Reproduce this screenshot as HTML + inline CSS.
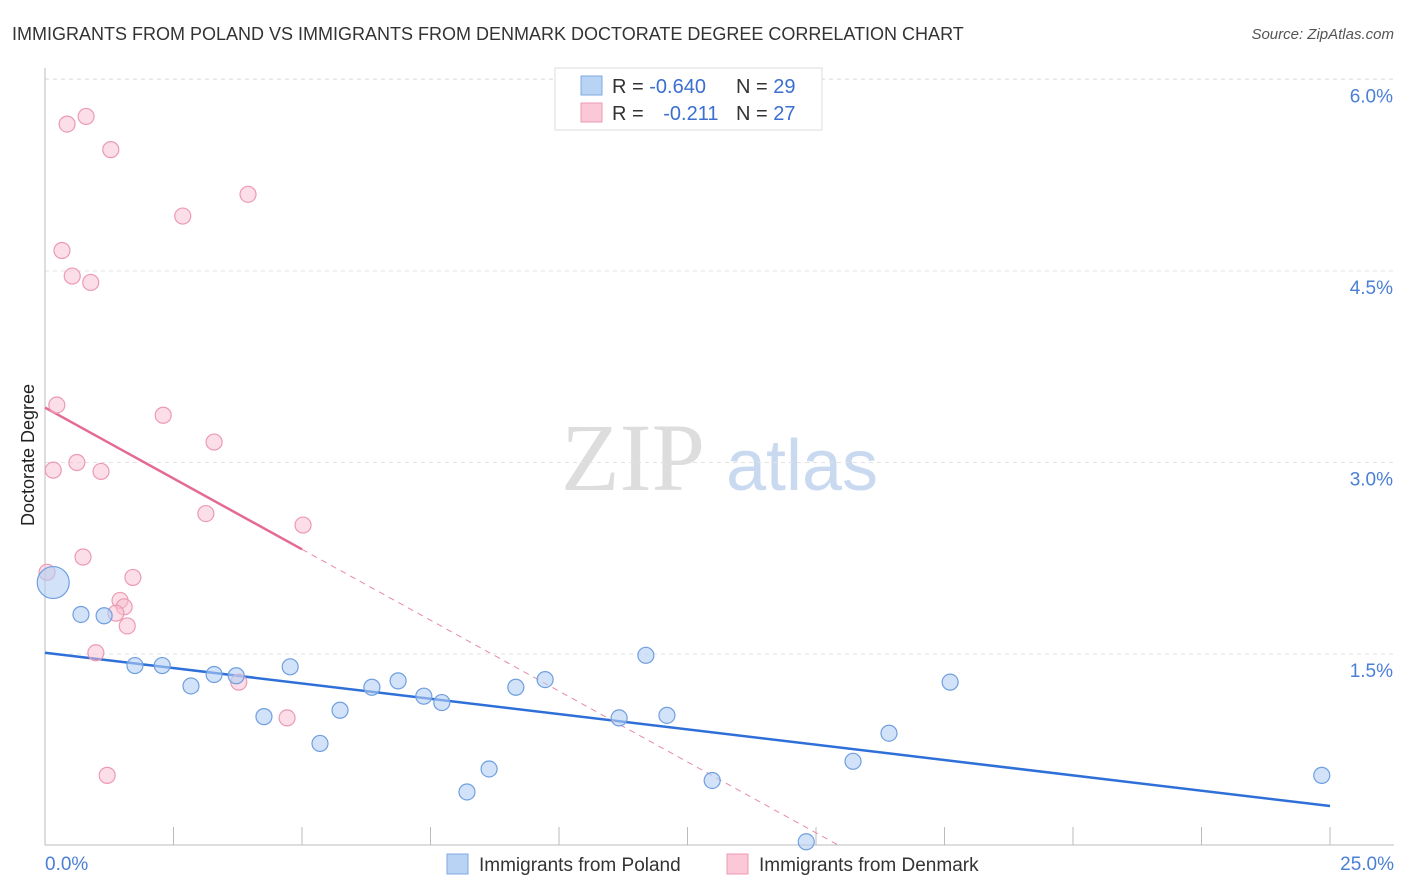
<!DOCTYPE html>
<html><head><meta charset="utf-8"><style>
body{margin:0;background:#fff;font-family:"Liberation Sans",sans-serif}
svg{display:block}
</style></head><body>
<svg id="chart" width="1406" height="892" xmlns="http://www.w3.org/2000/svg">
<text x="12" y="40" font-size="18" fill="#333">IMMIGRANTS FROM POLAND VS IMMIGRANTS FROM DENMARK DOCTORATE DEGREE CORRELATION CHART</text>
<text x="1394" y="39" font-size="15" fill="#555" font-style="italic" text-anchor="end">Source: ZipAtlas.com</text>
<text x="34" y="455" font-size="18" fill="#222" text-anchor="middle" transform="rotate(-90 34 455)">Doctorate Degree</text>
<g><text x="633" y="490" font-size="96" font-family="Liberation Serif,serif" fill="#ddd" text-anchor="middle">ZIP</text><text x="802" y="490" font-size="72" fill="#c9daf0" text-anchor="middle">atlas</text></g>
<g id="grid"></g><g id="axes"></g><g id="trend"></g><g id="pts"></g>
<g>
<rect x="555" y="68" width="267" height="62" fill="#fff" stroke="#ddd"/>
<rect x="581" y="76" width="21" height="19" fill="#b9d3f5" stroke="#7fa8e0"/>
<rect x="581" y="103" width="21" height="19" fill="#fac8d6" stroke="#ee9ab2"/>
<text x="612" y="93" font-size="20" fill="#333">R = <tspan fill="#3b6fd0">-0.640</tspan></text>
<text x="736" y="93" font-size="20" fill="#333">N = <tspan fill="#3b6fd0">29</tspan></text>
<text x="612" y="120" font-size="20" fill="#333">R = <tspan fill="#3b6fd0" dx="14">-0.211</tspan></text>
<text x="736" y="120" font-size="20" fill="#333">N = <tspan fill="#3b6fd0">27</tspan></text>
</g>
<g>
<rect x="447" y="854" width="21" height="20" fill="#b9d3f5" stroke="#7fa8e0"/>
<text x="479" y="871" font-size="19" fill="#333">Immigrants from Poland</text>
<rect x="727" y="854" width="21" height="20" fill="#fac8d6" stroke="#ee9ab2"/>
<text x="759" y="871" font-size="19" fill="#333">Immigrants from Denmark</text>
</g>
</svg>
<script>
const polandX=[0.16,0.70,1.15,1.75,2.28,2.84,3.29,3.72,4.26,4.77,5.35,5.74,6.36,6.87,7.37,7.72,8.21,8.64,9.16,9.73,11.17,11.69,12.10,12.98,14.81,15.72,16.42,17.61,24.84];
const polandY=[2.06,1.81,1.80,1.41,1.41,1.25,1.34,1.33,1.01,1.40,0.80,1.06,1.24,1.29,1.17,1.12,0.42,0.60,1.24,1.30,1.00,1.49,1.02,0.51,0.03,0.66,0.88,1.28,0.55];
const denmarkX=[0.43,0.80,1.28,3.95,2.68,0.33,0.53,0.89,0.23,2.30,3.29,0.16,0.62,1.09,3.13,5.02,0.74,0.04,1.71,1.46,1.54,1.38,1.60,0.99,3.77,4.71,1.21];
const denmarkY=[5.65,5.71,5.45,5.10,4.93,4.66,4.46,4.41,3.45,3.37,3.16,2.94,3.00,2.93,2.60,2.51,2.26,2.14,2.10,1.92,1.87,1.82,1.72,1.51,1.28,1.00,0.55];
const yTicks=[1.5,3.0,4.5,6.0];
const yTickLabels=["1.5%","3.0%","4.5%","6.0%"];
const xTicks=[0,2.5,5,7.5,10,12.5,15,17.5,20,22.5,25];
const polandTrend=[1.51,-0.048];
const denmarkTrend=[3.43,-0.222];
const X=v=>45+v*51.4, Y=v=>845.6-v*127.7;
const NS="http://www.w3.org/2000/svg";
function mk(p,t,a){const e=document.createElementNS(NS,t);for(const k in a)e.setAttribute(k,a[k]);p.appendChild(e);return e;}
const grid=document.getElementById('grid'),axes=document.getElementById('axes'),trend=document.getElementById('trend'),pts=document.getElementById('pts');
yTicks.forEach((v,i)=>{
 const l=mk(grid,'line',{x1:45,x2:1394,y1:Y(v),y2:Y(v),stroke:'#e3e3e3','stroke-dasharray':'4,4'});
 
 
 const t=mk(axes,'text',{x:1393,y:Y(v)+23,'font-size':19,fill:'#4a7fd6','text-anchor':'end'});t.textContent=yTickLabels[i];
 
 
});
const tl=mk(grid,'line',{x1:45,x2:1394,y1:79,y2:79,stroke:'#e3e3e3','stroke-dasharray':'4,4'});


const ya=mk(axes,'line',{x1:45,x2:45,y1:68,y2:845,stroke:'#bbb'});


const xa=mk(axes,'line',{x1:45,x2:1394,y1:845,y2:845,stroke:'#bbb'});


xTicks.forEach(v=>{const t=mk(axes,'line',{x1:X(v),x2:X(v),y1:827,y2:845,stroke:'#bbb'});
 
 });
const x0=mk(axes,'text',{x:45,y:870,'font-size':19,fill:'#4a7fd6'});x0.textContent='0.0%';


const x1=mk(axes,'text',{x:1394,y:870,'font-size':19,fill:'#4a7fd6','text-anchor':'end'});x1.textContent='25.0%';


// trends
const pl=mk(trend,'line',{x1:X(0),y1:Y(polandTrend[0]),x2:X(25),y2:Y(polandTrend[0]+25*polandTrend[1]),stroke:'#2f6fd8','stroke-width':2.5});


const zx=-denmarkTrend[0]/denmarkTrend[1];
const dd=mk(trend,'line',{x1:X(5),y1:Y(denmarkTrend[0]+5*denmarkTrend[1]),x2:X(zx),y2:Y(0),stroke:'#e88aa6','stroke-width':1,'stroke-dasharray':'6,5'});


const ds=mk(trend,'line',{x1:X(0),y1:Y(denmarkTrend[0]),x2:X(5),y2:Y(denmarkTrend[0]+5*denmarkTrend[1]),stroke:'#e56a92','stroke-width':2.5});


denmarkX.forEach((v,i)=>{const c=mk(pts,'circle',{cx:X(v),cy:Y(denmarkY[i]),r:8,fill:'rgba(248,190,208,0.5)',stroke:'#ec9ab3','stroke-width':1.2});
 
 });
polandX.forEach((v,i)=>{const c=mk(pts,'circle',{cx:X(v),cy:Y(polandY[i]),r:i===0?16:8,fill:'rgba(180,206,244,0.6)',stroke:'#6f9fe0','stroke-width':1.2});
 
 });
</script>
</body></html>
